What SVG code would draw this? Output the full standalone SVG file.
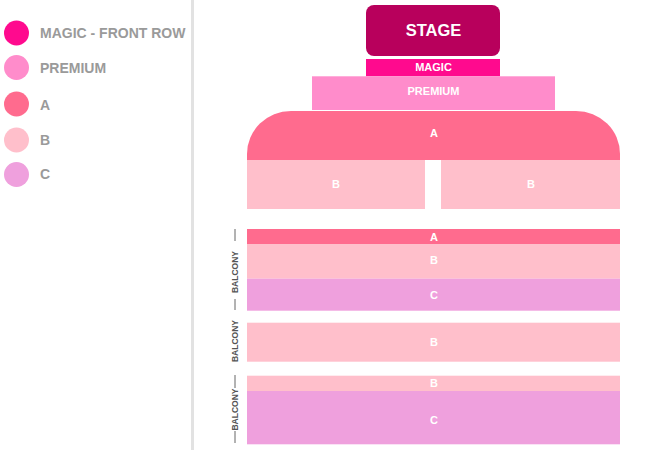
<svg xmlns="http://www.w3.org/2000/svg" width="670" height="450" viewBox="0 0 670 450">
<style>
text{font-family:"Liberation Sans",Arial,sans-serif;font-weight:bold}
.leg{font-size:14px;fill:#9a9a9a}
.lbl{font-size:11px;fill:#ffffff;text-anchor:middle}
.bal{font-size:8.5px;fill:#555555;text-anchor:middle}
.dash{stroke:#666666;stroke-width:1}
.mg{fill:#ff0a8e}.pr{fill:#ff8ccb}.sa{fill:#ff6b8e}.sb{fill:#ffbfcb}.sc{fill:#efa0dd}
</style>
<rect width="670" height="450" fill="#ffffff"/>
<g id="legend">
<circle class="mg" cx="16.5" cy="33" r="12.5"/><text class="leg" x="40" y="38">MAGIC - FRONT ROW</text>
<circle class="pr" cx="16.5" cy="67.5" r="12.5"/><text class="leg" x="40" y="72.5">PREMIUM</text>
<circle class="sa" cx="16.5" cy="104" r="12.5"/><text class="leg" x="40" y="109.5">A</text>
<circle class="sb" cx="16.5" cy="140" r="12.5"/><text class="leg" x="40" y="144.5">B</text>
<circle class="sc" cx="16.5" cy="174.5" r="12.5"/><text class="leg" x="40" y="179">C</text>
</g>
<rect id="divider" x="191" y="0" width="3" height="450" fill="#e2e2e2"/>
<g id="stage">
<rect x="366" y="5" width="134" height="51" rx="8" fill="#b8005c"/>
<text x="433.5" y="35.5" font-size="16.5" fill="#ffffff" text-anchor="middle">STAGE</text>
</g>
<g id="magic">
<rect class="mg" x="366" y="59" width="134" height="17.3"/>
<text class="lbl" x="433.5" y="71">MAGIC</text>
</g>
<g id="premium">
<rect class="pr" x="312" y="76.3" width="243" height="33.7"/>
<text class="lbl" x="433.5" y="95">PREMIUM</text>
</g>
<g id="sectionA">
<path class="sa" d="M247 160 V154 A44 43 0 0 1 291 111 H576 A44 43 0 0 1 620 154 V160 Z"/>
<text class="lbl" x="434" y="137.3">A</text>
</g>
<g id="sectionB-left">
<rect class="sb" x="247" y="160" width="178" height="49"/>
<text class="lbl" x="336" y="188.3">B</text>
</g>
<g id="sectionB-right">
<rect class="sb" x="441" y="160" width="179" height="49"/>
<text class="lbl" x="531" y="188.3">B</text>
</g>
<g id="balcony1">
<rect class="sa" x="247" y="229" width="373" height="15"/>
<text class="lbl" x="434" y="240.5">A</text>
<rect class="sb" x="247" y="244" width="373" height="34.7"/>
<text class="lbl" x="434" y="264.3">B</text>
<rect class="sc" x="247" y="278.7" width="373" height="32"/>
<text class="lbl" x="434" y="299">C</text>
<line class="dash" x1="235" y1="229" x2="235" y2="241"/>
<line class="dash" x1="235" y1="299" x2="235" y2="310"/>
<text class="bal" transform="translate(238,272) rotate(-90)">BALCONY</text>
</g>
<g id="balcony2">
<rect class="sb" x="247" y="322.7" width="373" height="39"/>
<text class="lbl" x="434" y="346">B</text>
<text class="bal" transform="translate(238,341) rotate(-90)">BALCONY</text>
</g>
<g id="balcony3">
<rect class="sb" x="247" y="375.7" width="373" height="15.3"/>
<text class="lbl" x="434" y="386.7">B</text>
<rect class="sc" x="247" y="391" width="373" height="53.3"/>
<text class="lbl" x="434" y="424">C</text>
<line class="dash" x1="235" y1="375" x2="235" y2="388"/>
<line class="dash" x1="235" y1="431" x2="235" y2="443"/>
<text class="bal" transform="translate(238,409.5) rotate(-90)">BALCONY</text>
</g>
<g id="connectors"/>
</svg>
